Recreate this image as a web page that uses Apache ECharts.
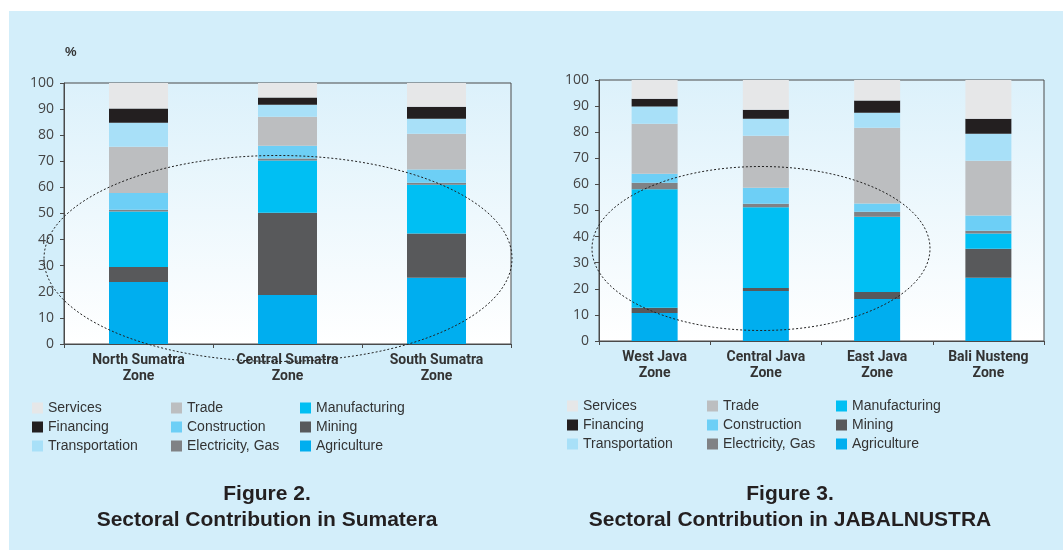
<!DOCTYPE html>
<html>
<head>
<meta charset="utf-8">
<script src="https://cdn.jsdelivr.net/npm/echarts@6/dist/echarts.min.js"></script>
<style>
html,body{margin:0;padding:0;background:#fff;}
#panel{position:absolute;left:9px;top:11px;width:1054px;height:539px;background:#d3eefa;}
#main{position:absolute;left:0;top:0;width:1063px;height:550px;}
</style>
</head>
<body>
<div id="panel"></div>
<div id="main"></div>
<script>
// ---- Data ----
const sumatraCats = ['North Sumatra\nZone', 'Central Sumatra\nZone', 'South Sumatra\nZone'];
const javaCats = ['West Java\nZone', 'Central Java\nZone', 'East Java\nZone', 'Bali Nusteng\nZone'];
const yTicks = [0, 10, 20, 30, 40, 50, 60, 70, 80, 90, 100];

const sectors = ['Agriculture', 'Mining', 'Manufacturing', 'Electricity, Gas', 'Construction', 'Trade', 'Transportation', 'Financing', 'Services'];

// Sumatera (percent)
const sumAgriculture    = [23.8, 18.8, 25.4];
const sumMining         = [5.7, 31.5, 16.9];
const sumManufacturing  = [21.3, 20.0, 18.7];
const sumElectricity    = [0.6, 0.8, 0.8];
const sumConstruction   = [6.5, 4.9, 5.1];
const sumTrade          = [17.7, 11.1, 13.7];
const sumTransportation = [9.2, 4.6, 5.7];
const sumFinancing      = [5.4, 2.7, 4.6];
const sumServices       = [9.8, 5.6, 9.1];

// JABALNUSTRA (percent)
const javAgriculture    = [10.7, 19.2, 16.1, 24.2];
const javMining         = [2.0, 1.1, 2.7, 11.1];
const javManufacturing  = [45.4, 30.9, 28.8, 5.9];
const javElectricity    = [2.5, 1.4, 1.9, 1.0];
const javConstruction   = [3.5, 6.1, 3.2, 5.9];
const javTrade          = [19.1, 19.9, 29.0, 21.0];
const javTransportation = [6.6, 6.6, 5.8, 10.3];
const javFinancing      = [3.0, 3.4, 4.6, 5.8];
const javServices       = [7.2, 11.4, 7.9, 14.8];

const legendCol1 = ['Services', 'Financing', 'Transportation'];
const legendCol2 = ['Trade', 'Construction', 'Electricity, Gas'];
const legendCol3 = ['Manufacturing', 'Mining', 'Agriculture'];

// ---- Styles ----
const colors = {
  'Agriculture': '#00aeef',
  'Mining': '#58595b',
  'Manufacturing': '#00bff3',
  'Electricity, Gas': '#808285',
  'Construction': '#6dcff6',
  'Trade': '#bcbec0',
  'Transportation': '#a8e0f8',
  'Financing': '#231f20',
  'Services': '#e6e7e8'
};

const sumData = [sumAgriculture, sumMining, sumManufacturing, sumElectricity, sumConstruction, sumTrade, sumTransportation, sumFinancing, sumServices];
const javData = [javAgriculture, javMining, javManufacturing, javElectricity, javConstruction, javTrade, javTransportation, javFinancing, javServices];

const plotBg = {type: 'linear', x: 0, y: 0, x2: 0, y2: 1, colorStops: [{offset: 0, color: '#dcf1fb'}, {offset: 1, color: '#ffffff'}]};

function makeGrid(left, top, width, height) {
  return {left, top, width, height, show: true, backgroundColor: plotBg, borderColor: '#4a4a4a', borderWidth: 1, containLabel: false};
}
function makeX(idx, cats) {
  return {
    type: 'category', gridIndex: idx, data: cats,
    axisLine: {lineStyle: {color: '#4a4a4a', width: 1}},
    axisTick: {show: true, inside: false, length: 4, alignWithLabel: false, lineStyle: {color: '#4a4a4a'}},
    axisLabel: {color: '#333', fontFamily: 'Roboto', fontWeight: 'bold', fontSize: 14, lineHeight: 16, margin: 8, interval: 0}
  };
}
function makeY(idx) {
  return {
    type: 'value', gridIndex: idx, min: 0, max: 100, interval: 10,
    axisLine: {show: true, lineStyle: {color: '#4a4a4a', width: 1}},
    axisTick: {show: true, inside: false, length: 4, lineStyle: {color: '#4a4a4a'}},
    splitLine: {show: false},
    axisLabel: {color: '#444', fontFamily: 'Open Sans', fontSize: 14, margin: 10}
  };
}

const series = [];
sectors.forEach((s, i) => {
  series.push({name: s, type: 'bar', stack: 'sum', xAxisIndex: 0, yAxisIndex: 0, barWidth: 59, data: sumData[i], itemStyle: {color: colors[s]}});
});
sectors.forEach((s, i) => {
  series.push({name: s, type: 'bar', stack: 'jav', xAxisIndex: 1, yAxisIndex: 1, barWidth: 46, data: javData[i], itemStyle: {color: colors[s]}});
});

function makeLegend(left, top, names) {
  return {
    orient: 'vertical', left, top, data: names, itemWidth: 11, itemHeight: 11, itemGap: 5,
    icon: 'rect', selectedMode: false, padding: 0,
    textStyle: {color: '#333', fontFamily: 'Liberation Sans', fontSize: 14, padding: [0, 0, 0, 0]}
  };
}

const option = {
  animation: false,
  backgroundColor: 'transparent',
  grid: [makeGrid(64, 83, 447, 261), makeGrid(599, 80, 445, 261)],
  xAxis: [makeX(0, sumatraCats), makeX(1, javaCats)],
  yAxis: [makeY(0), makeY(1)],
  legend: [
    makeLegend(32, 401, legendCol1), makeLegend(171, 401, legendCol2), makeLegend(300, 401, legendCol3),
    makeLegend(567, 399, legendCol1), makeLegend(707, 399, legendCol2), makeLegend(836, 399, legendCol3)
  ],
  series: series,
  graphic: [
    {type: 'text', left: 65, top: 46, z: 10, style: {text: '%', fontFamily: 'Liberation Sans', fontWeight: 'bold', fontSize: 13, fill: '#333'}},
    {type: 'ellipse', shape: {cx: 278, cy: 258.5, rx: 234, ry: 103}, z: 100, style: {fill: 'none', stroke: '#222', lineWidth: 1, lineDash: [2, 2]}},
    {type: 'ellipse', shape: {cx: 761, cy: 248.5, rx: 169, ry: 82}, z: 100, style: {fill: 'none', stroke: '#222', lineWidth: 1, lineDash: [2, 2]}},
    {type: 'text', x: 267, y: 494, z: 10, style: {text: 'Figure 2.', align: 'center', verticalAlign: 'middle', fontFamily: 'Liberation Sans', fontWeight: 'bold', fontSize: 21, fill: '#231f20'}},
    {type: 'text', x: 267, y: 520, z: 10, style: {text: 'Sectoral Contribution in Sumatera', align: 'center', verticalAlign: 'middle', fontFamily: 'Liberation Sans', fontWeight: 'bold', fontSize: 21, fill: '#231f20'}},
    {type: 'text', x: 790, y: 494, z: 10, style: {text: 'Figure 3.', align: 'center', verticalAlign: 'middle', fontFamily: 'Liberation Sans', fontWeight: 'bold', fontSize: 21, fill: '#231f20'}},
    {type: 'text', x: 790, y: 520, z: 10, style: {text: 'Sectoral Contribution in JABALNUSTRA', align: 'center', verticalAlign: 'middle', fontFamily: 'Liberation Sans', fontWeight: 'bold', fontSize: 21, fill: '#231f20'}}
  ]
};

const chart = echarts.init(document.getElementById('main'), null, {renderer: 'canvas'});
chart.setOption(option);
</script>
</body>
</html>
